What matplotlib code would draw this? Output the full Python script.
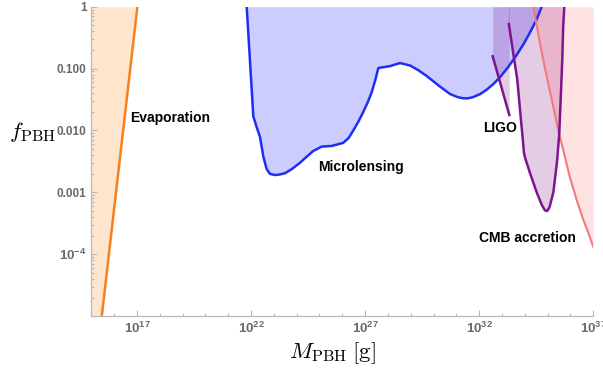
import numpy as np
import matplotlib.pyplot as plt
from matplotlib.ticker import FixedLocator, FixedFormatter, LogLocator, NullFormatter

plt.rcParams['font.family'] = ['Liberation Sans', 'DejaVu Sans']
plt.rcParams['mathtext.fontset'] = 'custom'
plt.rcParams['mathtext.rm'] = 'Liberation Sans:bold'
plt.rcParams['mathtext.bf'] = 'Liberation Sans:bold'
plt.rcParams['mathtext.it'] = 'Liberation Sans:italic:bold'

# constraint curves, log10(M / g) vs log10(f_PBH)
evap_logm = [15.46, 17.02]
evap_logf = [-5.0, 0.0]

micro_logm = [21.81, 21.95, 22.10, 22.25, 22.39, 22.54, 22.68, 22.83, 23.05, 23.27,
              23.49, 23.80, 24.15, 24.45, 24.73, 25.10, 25.53, 26.04, 26.28, 26.48,
              26.70, 26.92, 27.12, 27.29, 27.45, 27.58, 28.09, 28.53, 28.97, 29.35,
              29.70, 30.28, 30.72, 31.05, 31.30, 31.50, 31.74, 32.05, 32.33, 32.62,
              32.91, 33.28, 33.64, 33.95, 34.22, 34.50, 34.74]
micro_logf = [0.0, -0.85, -1.77, -1.95, -2.10, -2.42, -2.62, -2.70, -2.72, -2.71,
              -2.69, -2.62, -2.52, -2.42, -2.33, -2.26, -2.25, -2.20, -2.12, -2.00,
              -1.86, -1.70, -1.54, -1.38, -1.18, -0.99, -0.96, -0.91, -0.95, -1.03,
              -1.12, -1.29, -1.41, -1.46, -1.48, -1.48, -1.46, -1.41, -1.34, -1.25,
              -1.14, -0.97, -0.78, -0.60, -0.42, -0.22, 0.0]

ligo_logm = [32.59, 33.32]
ligo_logf = [-0.80, -1.75]

ligo2_logm = [33.30, 33.49, 33.67, 33.79, 33.90, 33.96, 34.01, 34.22, 34.52, 34.74,
              34.88, 34.98, 35.08, 35.25, 35.42, 35.51, 35.57, 35.64, 35.68, 35.73]
ligo2_logf = [-0.28, -0.75, -1.18, -1.67, -2.10, -2.36, -2.44, -2.68, -3.00, -3.20,
              -3.29, -3.30, -3.24, -3.00, -2.47, -2.04, -1.50, -0.86, -0.33, 0.0]

cmb_logm = [34.37, 34.66, 34.96, 35.25, 35.46, 35.68, 35.97, 36.27, 36.56, 36.78, 37.0]
cmb_logf = [0.0, -0.59, -1.13, -1.62, -1.99, -2.31, -2.75, -3.12, -3.44, -3.65, -3.88]

xtick_exp = [17, 22, 27, 32, 37]
xtick_labels = [r'$10^{17}$', r'$10^{22}$', r'$10^{27}$', r'$10^{32}$', r'$10^{37}$']
ytick_vals = [1e-4, 1e-3, 1e-2, 1e-1, 1.0]
ytick_labels = [r'$10^{-4}$', '0.001', '0.010', '0.100', '1']

labels = ['Evaporation', 'Microlensing', 'LIGO', 'CMB accretion']
label_logm = [16.69, 24.96, 32.19, 32.01]
label_logf = [-1.80, -2.59, -1.96, -3.74]

def p(a):
    return 10.0 ** np.asarray(a)

fig = plt.figure(figsize=(6.03, 3.72), dpi=100)
ax = fig.add_axes([0.1514, 0.150, 0.8325, 0.832])
ax.set_xscale('log')
ax.set_yscale('log')
ax.set_xlim(1e15, 1e37)
ax.set_ylim(1e-5, 1)

# evaporation
ax.fill_betweenx(p(evap_logf), 1e15, p(evap_logm), color=(1.0, 0.5, 0.0), alpha=0.2, lw=0)
ax.plot(p(evap_logm), p(evap_logf), color='#f7801e', lw=1.8)

# microlensing
ax.fill_between(p(micro_logm), p(micro_logf), 1, color=(0, 0, 1), alpha=0.2, lw=0)
ax.plot(p(micro_logm), p(micro_logf), color='#1f2ef2', lw=1.8)

# LIGO
purple = (0.5, 0.0, 0.5)
ax.fill_between(p(ligo_logm), p(ligo_logf), 1, color=purple, alpha=0.2, lw=0)
fm = np.concatenate([[ligo2_logm[0]], ligo2_logm])
ff = np.concatenate([[0.0], ligo2_logf])
ax.fill(p(fm), p(ff), color=purple, alpha=0.2, lw=0)

# CMB accretion
ax.fill_between(p(cmb_logm), p(cmb_logf), 1, color=(1.0, 0.15, 0.15), alpha=0.13, lw=0)
ax.plot(p(cmb_logm), p(cmb_logf), color='#f27a7a', lw=1.5)

ax.plot(p(ligo_logm), p(ligo_logf), color='#7d1490', lw=1.8)
ax.plot(p(ligo2_logm), p(ligo2_logf), color='#7d1490', lw=1.8)

for s, lm, lf in zip(labels, label_logm, label_logf):
    ax.text(10 ** lm, 10 ** lf, s, fontsize=10, fontweight='bold', va='center', ha='left')

# axes styling
for side in ['top', 'right']:
    ax.spines[side].set_visible(False)
for side in ['left', 'bottom']:
    ax.spines[side].set_color('#b8b8b8')
    ax.spines[side].set_linewidth(0.9)

ax.xaxis.set_major_locator(FixedLocator(p(xtick_exp)))
ax.xaxis.set_major_formatter(FixedFormatter(xtick_labels))
ax.xaxis.set_minor_locator(FixedLocator(p(np.arange(15, 38))))
ax.xaxis.set_minor_formatter(NullFormatter())
ax.yaxis.set_major_locator(FixedLocator(ytick_vals))
ax.yaxis.set_major_formatter(FixedFormatter(ytick_labels))
ax.yaxis.set_minor_locator(LogLocator(base=10, subs=np.arange(2, 10), numticks=20))
ax.yaxis.set_minor_formatter(NullFormatter())

ax.tick_params(which='both', direction='in', color='#b8b8b8', labelcolor='#6a6a6a',
               labelsize=8.5, width=0.8)
ax.tick_params(axis='x', labelsize=9.5)
ax.tick_params(which='major', length=4.5, pad=3.5)
ax.tick_params(which='minor', length=2.5)
plt.setp(ax.get_xticklabels() + ax.get_yticklabels(), fontweight='bold')
ax.get_yticklabels()[0].set_fontsize(9.5)

ax.set_ylabel(r'$f_{\mathrm{PBH}}$', fontsize=16.5, rotation=0, math_fontfamily='cm',
              ha='center', va='center')
ax.yaxis.set_label_coords(-0.117, 0.595)
ax.set_xlabel(r'$M_{\mathrm{PBH}}\;[\mathrm{g}]$', fontsize=16.5, math_fontfamily='cm',
              ha='center', va='center')
ax.xaxis.set_label_coords(0.481, -0.119)

fig.savefig('out.png', dpi=100)
